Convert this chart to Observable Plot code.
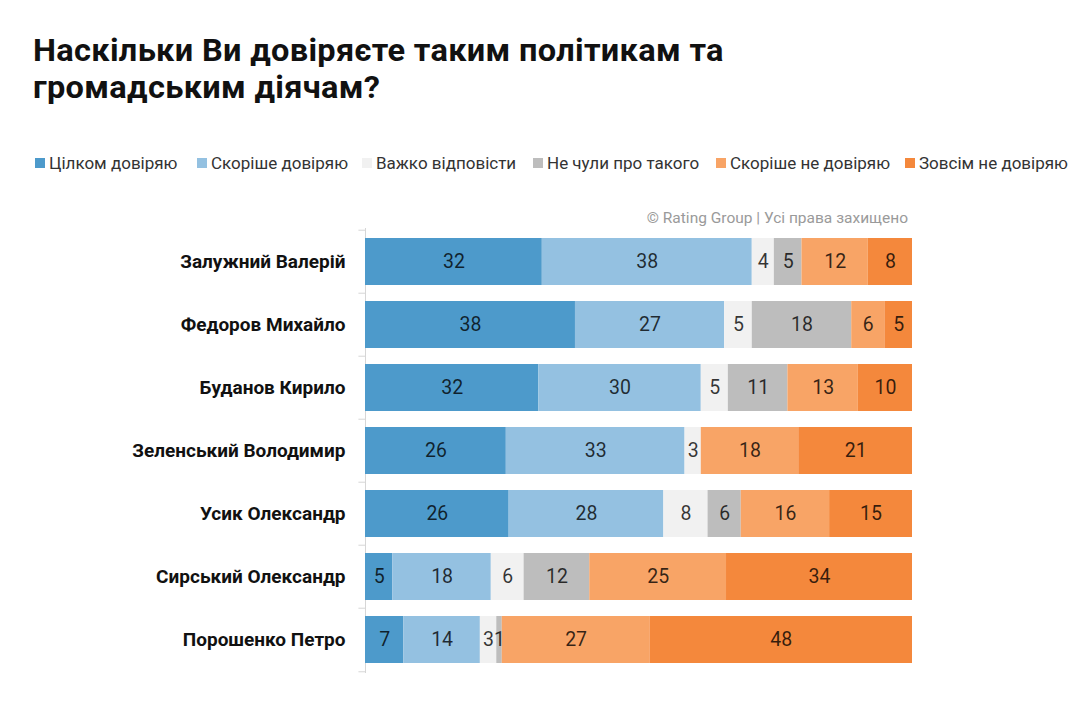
<!DOCTYPE html>
<html lang="uk">
<head>
<meta charset="utf-8">
<script src="https://cdn.jsdelivr.net/npm/d3@7"></script>
<script src="https://cdn.jsdelivr.net/npm/@observablehq/plot@0.6"></script>
<style>
  html, body { margin: 0; padding: 0; background: #fff; }
  body { width: 1080px; height: 701px; position: relative; overflow: hidden; font-family: Roboto, "Noto Sans", sans-serif; }
  #title { position: absolute; left: 33px; top: 33px; font-size: 31px; line-height: 36.5px; font-weight: 700; color: #111;
           white-space: nowrap; letter-spacing: 0.3px; transform: scaleX(1.05); transform-origin: left top; }
  .legend-item { position: absolute; top: 153px; height: 20px; display: flex; align-items: center; font-size: 17px; color: #333; white-space: nowrap; }
  .legend-item .sw { width: 10px; height: 10px; margin-right: 4px; flex: none; }
  #credit { position: absolute; right: 172px; top: 209px; font-size: 15.5px; color: #9a9a9a; white-space: nowrap; z-index: 2; }
  #chart { position: absolute; left: 0; top: 200px; z-index: 1; }
</style>
</head>
<body>
<div id="title">Наскільки Ви довіряєте таким політикам та<br>громадським діячам?</div>
<div id="legend"></div>
<div id="credit">© Rating Group | Усі права захищено</div>
<div id="chart"></div>
<script>
// Respondents (rows, top to bottom)
const names = [
  "Залужний Валерій",
  "Федоров Михайло",
  "Буданов Кирило",
  "Зеленський Володимир",
  "Усик Олександр",
  "Сирський Олександр",
  "Порошенко Петро"
];

// Answer categories, in stacking order
const answers = [
  "Цілком довіряю",
  "Скоріше довіряю",
  "Важко відповісти",
  "Не чули про такого",
  "Скоріше не довіряю",
  "Зовсім не довіряю"
];

const answerColors = ["#4d9acb", "#94c1e1", "#f1f1f1", "#bdbdbd", "#f8a466", "#f4883c"];

// Shares, % — one array per answer, aligned with names
const fullyTrust     = [32, 38, 32, 26, 26,  5,  7];
const ratherTrust    = [38, 27, 30, 33, 28, 18, 14];
const hardToSay      = [ 4,  5,  5,  3,  8,  6,  3];
const neverHeard     = [ 5, 18, 11,  0,  6, 12,  1];
const ratherDistrust = [12,  6, 13, 18, 16, 25, 27];
const fullyDistrust  = [ 8,  5, 10, 21, 15, 34, 48];

const series = [fullyTrust, ratherTrust, hardToSay, neverHeard, ratherDistrust, fullyDistrust];

const rows = [];
names.forEach((name, i) => {
  answers.forEach((answer, j) => {
    const value = series[j][i];
    if (value > 0) rows.push({name, answer, value});
  });
});

// Legend
const legend = document.getElementById("legend");
const legendLeft = [35, 197, 362, 533, 716, 905];
answers.forEach((a, i) => {
  const item = document.createElement("div");
  item.className = "legend-item";
  item.style.left = legendLeft[i] + "px";
  item.innerHTML = `<span class="sw" style="background:${answerColors[i]}"></span><span>${a}</span>`;
  legend.appendChild(item);
});

const stack = {offset: "normalize", order: answers};
const height = 480, marginTop = 28, marginBottom = 7;
const halfStep = (height - marginTop - marginBottom) / names.length / 2;

const chart = Plot.plot({
  width: 1080,
  height,
  marginLeft: 365,
  marginRight: 168,
  marginTop,
  marginBottom,
  style: {fontFamily: "Roboto, sans-serif", background: "transparent"},
  x: {axis: null, domain: [0, 1]},
  y: {domain: names, paddingInner: 0.26, paddingOuter: 0.13, label: null},
  color: {domain: answers, range: answerColors},
  marks: [
    // left baseline with small separators between rows
    Plot.ruleX([0], {stroke: "#d6d6d6"}),
    Plot.ruleY(names, {y: d => d, x1: -0.012, x2: 0, dy: -halfStep, stroke: "#d6d6d6"}),
    Plot.ruleY(names.slice(-1), {y: d => d, x1: -0.012, x2: 0, dy: halfStep, stroke: "#d6d6d6"}),
    Plot.barX(rows, Plot.stackX({
      ...stack,
      x: "value", y: "name", z: "answer", fill: "answer"
    })),
    Plot.textX(rows, Plot.stackX({
      ...stack,
      x: "value", y: "name", z: "answer", text: "value",
      fill: "#000", fillOpacity: 0.78, fontSize: 19.5
    })),
    Plot.axisY({tickSize: 0, tickPadding: 20, fontSize: 19, fontWeight: "bold", fill: "#111"})
  ]
});

document.getElementById("chart").appendChild(chart);
</script>
</body>
</html>
